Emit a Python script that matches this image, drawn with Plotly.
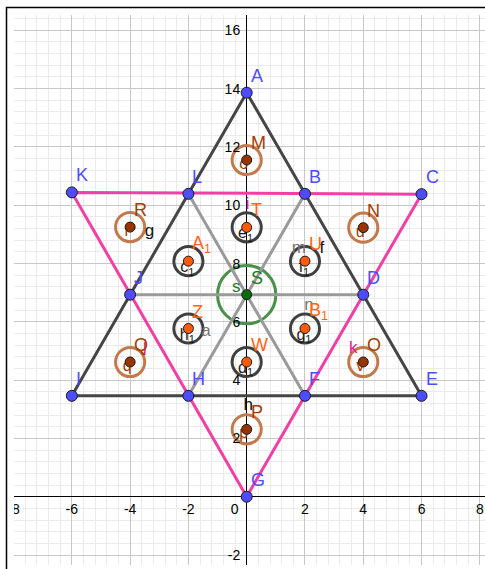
import plotly.graph_objects as go

# ---------------- data ----------------
blue_names = ["A", "B", "C", "D", "E", "F", "G", "H", "I", "J", "K", "L"]
blue_x = [0, 2, 6, 4, 6, 2, 0, -2, -6, -4, -6, -2]
blue_y = [13.86, 10.39, 10.38, 6.93, 3.46, 3.46, 0, 3.46, 3.46, 6.93, 10.44, 10.39]

orange_names = ["T", "A<sub>1</sub>", "U", "Z", "B<sub>1</sub>", "W"]
orange_x = [0, -2, 2, -2, 2, 0]
orange_y = [9.24, 8.08, 8.08, 5.77, 5.77, 4.62]
orange_ring_names = ["e<sub>1</sub>", "c<sub>1</sub>", "f<sub>1</sub>", "h<sub>1</sub>", "g<sub>1</sub>", "d<sub>1</sub>"]

brown_names = ["M", "R", "N", "Q", "O", "P"]
brown_x = [0, -4, 4, -4, 4, 0]
brown_y = [11.55, 9.25, 9.23, 4.62, 4.62, 2.31]
brown_ring_names = ["o", "r", "u", "q", "v", "p"]

center_names = ["S"]
center_x = [0]
center_y = [6.93]
center_ring_names = ["s"]

small_ring_r = 0.5
center_ring_r = 1.0

dark_polygon = ["A", "I", "E", "A"]
pink_polygon = ["K", "C", "G", "K"]
gray_segments = [("L", "F"), ("B", "H"), ("J", "D")]

seg_label_text = ["i", "j", "k", "f", "g", "h", "m", "n", "a"]
seg_label_x = [0.03, -3.49, 3.66, 2.58, -3.34, 0.05, 1.79, 2.14, -1.40]
seg_label_y = [10.0, 5.15, 5.09, 8.5, 9.09, 3.11, 8.52, 6.54, 5.66]
seg_label_kind = ["pink", "pink", "pink", "dark", "dark", "dark", "gray", "gray", "gray"]

x_ticks = [-8, -6, -4, -2, 0, 2, 4, 6, 8]
y_ticks = [-2, 2, 4, 6, 8, 10, 12, 14, 16]

# ---------------- layout constants ----------------
W, H = 485, 569
ML, MR, MT, MB = 14, 0, 15, 4
XR = [-7.985, 8.178]
YR = [-2.343, 16.525]
SX = (W - ML - MR) / (XR[1] - XR[0])
SY = (H - MT - MB) / (YR[1] - YR[0])

FONT = "Liberation Sans, Arial, sans-serif"
BLUE = "#4d4dff"
ORANGE_PT = "#ff5a0a"
ORANGE_LB = "#ff6414"
BROWN_PT = "#993300"
BROWN_LB = "#a33d00"
BROWN_RING = "#c27a4c"
GREEN_PT = "#0b6b0b"
GREEN_LB = "#1c7a1c"
GREEN_RING = "#4a8f4a"
DARK = "#454545"
LIGHT = "#9a9a9a"
PINK = "#f23fa5"
seg_colors = {"pink": "#e8179a", "dark": "#111111", "gray": "#777777"}

P = {n: (x, y) for n, x, y in zip(blue_names, blue_x, blue_y)}

fig = go.Figure()

# tick labels (clipped to the plot area)
tx, ty, tt = [], [], []
for v in x_ticks:
    tx.append(v if v != 0 else -12 / SX)
    ty.append(-13.5 / SY)
    tt.append(str(v))
fig.add_trace(go.Scatter(x=tx, y=ty, text=tt, mode="text", textposition="middle center",
                         textfont=dict(family=FONT, size=14, color="black"),
                         cliponaxis=True, hoverinfo="skip", showlegend=False))
fig.add_trace(go.Scatter(x=[-6.5 / SX] * len(y_ticks), y=[v - 1.5 / SY for v in y_ticks],
                         text=[str(v) for v in y_ticks], mode="text", textposition="middle left",
                         textfont=dict(family=FONT, size=14, color="black"),
                         cliponaxis=True, hoverinfo="skip", showlegend=False))

# light gray segments
for a, b in gray_segments:
    fig.add_trace(go.Scatter(x=[P[a][0], P[b][0]], y=[P[a][1], P[b][1]], mode="lines",
                             line=dict(color=LIGHT, width=3), hoverinfo="skip", showlegend=False))
# dark triangle
fig.add_trace(go.Scatter(x=[P[n][0] for n in dark_polygon], y=[P[n][1] for n in dark_polygon],
                         mode="lines", line=dict(color=DARK, width=3), hoverinfo="skip", showlegend=False))
# pink triangle
fig.add_trace(go.Scatter(x=[P[n][0] for n in pink_polygon], y=[P[n][1] for n in pink_polygon],
                         mode="lines", line=dict(color=PINK, width=3), hoverinfo="skip", showlegend=False))

# ring labels (drawn under the dots)
def ring_labels(xs, ys, names, color, dx, dy, size):
    fig.add_trace(go.Scatter(x=[x + dx / SX for x in xs], y=[y - dy / SY for y in ys], text=names,
                             mode="text", textposition="middle center",
                             textfont=dict(family=FONT, size=size, color=color),
                             hoverinfo="skip", showlegend=False))

ring_labels(orange_x, orange_y, orange_ring_names, "#1a1a1a", -1, 7, 16)
ring_labels(brown_x, brown_y, brown_ring_names, BROWN_LB, -3, 5, 16)
ring_labels(center_x, center_y, center_ring_names, GREEN_LB, -10.5, -7, 17)

# segment labels
fig.add_trace(go.Scatter(x=seg_label_x, y=seg_label_y, text=seg_label_text, mode="text",
                         textposition="middle center",
                         textfont=dict(family=FONT, size=17, color=[seg_colors[k] for k in seg_label_kind]),
                         hoverinfo="skip", showlegend=False))

# rings
shapes = []
def rings(xs, ys, r, color):
    for x, y in zip(xs, ys):
        shapes.append(dict(type="circle", xref="x", yref="y", x0=x - r, x1=x + r, y0=y - r, y1=y + r,
                           line=dict(color=color, width=3), layer="between"))

rings(orange_x, orange_y, small_ring_r, "#404040")
rings(brown_x, brown_y, small_ring_r, BROWN_RING)
rings(center_x, center_y, center_ring_r, GREEN_RING)

# frame
shapes.append(dict(type="rect", xref="paper", yref="paper",
                   x0=(6.5 - ML) / (W - ML - MR), x1=1.05,
                   y0=-(MB + 1) / (H - MT - MB), y1=1 + (MT - 7.5) / (H - MT - MB),
                   line=dict(color="black", width=1.5), layer="above"))

# points
def pts(xs, ys, fill, size):
    fig.add_trace(go.Scatter(x=xs, y=ys, mode="markers",
                             marker=dict(color=fill, size=size, line=dict(color="#1a1a1a", width=1)),
                             hoverinfo="skip", showlegend=False))

pts(blue_x, blue_y, BLUE, 11)
pts(orange_x, orange_y, ORANGE_PT, 10)
pts(brown_x, brown_y, BROWN_PT, 10)
pts(center_x, center_y, GREEN_PT, 10)

# point labels
ann = []
def labels(xs, ys, names, color):
    for x, y, n in zip(xs, ys, names):
        ann.append(dict(x=x, y=y, xref="x", yref="y", text=n, showarrow=False,
                        xanchor="left", yanchor="middle", xshift=2, yshift=17,
                        font=dict(family=FONT, size=18, color=color)))

labels(blue_x, blue_y, blue_names, BLUE)
labels(orange_x, orange_y, orange_names, ORANGE_LB)
labels(brown_x, brown_y, brown_names, BROWN_LB)
labels(center_x, center_y, center_names, GREEN_LB)

axis_common = dict(showticklabels=False, ticks="", showline=False,
                   showgrid=True, gridcolor="#c8c8c8", gridwidth=1,
                   zeroline=True, zerolinecolor="black", zerolinewidth=1,
                   tick0=0, dtick=2, fixedrange=True,
                   minor=dict(showgrid=True, gridcolor="#ebebeb", gridwidth=1, tick0=0, dtick=0.4))

fig.update_layout(
    width=W, height=H, autosize=False,
    margin=dict(l=ML, r=MR, t=MT, b=MB, pad=0),
    paper_bgcolor="white", plot_bgcolor="white",
    xaxis=dict(range=XR, **axis_common),
    yaxis=dict(range=YR, **axis_common),
    shapes=shapes, annotations=ann,
    hovermode=False, showlegend=False,
)

fig.write_html("out.html", config={"displayModeBar": False},
               post_script="document.body.style.margin='0px';document.body.style.overflow='hidden';")
